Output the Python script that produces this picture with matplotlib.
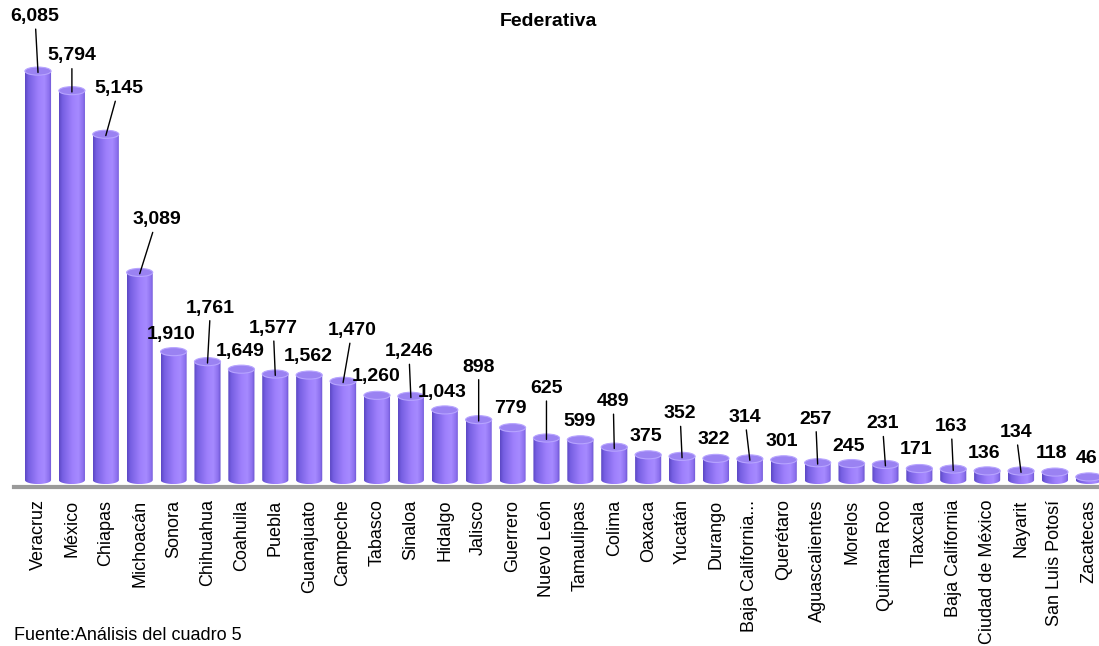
import numpy as np
import matplotlib
matplotlib.use("Agg")
import matplotlib.pyplot as plt
from matplotlib.path import Path
from matplotlib.patches import PathPatch, Ellipse

plt.rcParams['font.family'] = ['Liberation Sans', 'DejaVu Sans']

# data
estados = ["Veracruz", "México", "Chiapas", "Michoacán", "Sonora", "Chihuahua",
           "Coahuila", "Puebla", "Guanajuato", "Campeche", "Tabasco", "Sinaloa",
           "Hidalgo", "Jalisco", "Guerrero", "Nuevo León", "Tamaulipas", "Colima",
           "Oaxaca", "Yucatán", "Durango", "Baja California...", "Querétaro",
           "Aguascalientes", "Morelos", "Quintana Roo", "Tlaxcala",
           "Baja California", "Ciudad de México", "Nayarit", "San Luis Potosí",
           "Zacatecas"]
valores = [6085, 5794, 5145, 3089, 1910, 1761, 1649, 1577, 1562, 1470, 1260, 1246,
           1043, 898, 779, 625, 599, 489, 375, 352, 322, 314, 301, 257, 245, 231,
           171, 163, 136, 134, 118, 46]

# label offsets in pixels from bar top (dx, dy) and whether a leader line is drawn
label_off = [(-3, 56), (0, 36), (13, 47), (17, 54), (-2, 19), (3, 55), (-1, 19),
             (-2, 47), (-1, 20), (9, 52), (-1, 20), (-2, 46), (-3, 19), (0, 54),
             (-2, 21), (0, 51), (-1, 20), (-1, 47), (-2, 20), (-2, 44), (-2, 20),
             (-5, 43), (-2, 20), (-2, 45), (-3, 18), (-3, 42), (-3, 20), (-2, 44),
             (-3, 19), (-5, 40), (-3, 20), (-2, 20)]
leader = [1, 1, 1, 1, 0, 1, 0, 1, 0, 1, 0, 1, 0, 1, 0, 1, 0, 1, 0, 1, 0, 1, 0, 1,
          0, 1, 0, 1, 0, 1, 0, 0]

W, H = 1099, 646
fig = plt.figure(figsize=(W / 100, H / 100), dpi=100)
ax = fig.add_axes([14 / W, (H - 487) / H, (W - 14) / W, 487 / H])

bw = 0.77
cap_h = 120
stops = np.array([0.0, 0.12, 0.5, 0.72, 0.9, 1.0])
cols = np.array([[92, 72, 196], [118, 95, 226], [158, 128, 252],
                 [166, 138, 255], [140, 112, 238], [104, 82, 206]]) / 255
xs = np.linspace(0, 1, 64)
grad = np.stack([np.interp(xs, stops, cols[:, k]) for k in range(3)], axis=-1)[None, :, :]

t = np.linspace(np.pi, 2 * np.pi, 40)
for i, v in enumerate(valores):
    x0, x1 = i - bw / 2, i + bw / 2
    pts = [(x0, v), (x0, 0)]
    pts += list(zip(i + bw / 2 * np.cos(t), cap_h / 2 * np.sin(t)))
    pts += [(x1, 0), (x1, v), (x0, v)]
    clip = PathPatch(Path(pts), transform=ax.transData, facecolor='none', edgecolor='none')
    im = ax.imshow(grad, extent=[x0, x1, -cap_h / 2, v], aspect='auto',
                   interpolation='bilinear', zorder=2)
    im.set_clip_path(clip)
    ax.add_patch(Ellipse((i, v), bw, cap_h, facecolor='#9a82f2',
                         edgecolor='#b7a4ff', lw=0.8, zorder=3))

for i, v in enumerate(valores):
    dx, dy = label_off[i]
    ax.annotate(f"{v:,}", xy=(i, v - 20), xytext=(dx, dy), textcoords='offset pixels',
                ha='center', va='center', fontsize=14, fontweight='bold',
                annotation_clip=False, zorder=5,
                arrowprops=dict(arrowstyle='-', color='black', lw=1,
                                shrinkA=1, shrinkB=0) if leader[i] else None)

ax.set_xlim(-0.708, 31.3)
ax.set_ylim(-104, 7143)
ax.set_xticks(range(len(estados)))
ax.set_xticklabels(estados, rotation=90, fontsize=13, va='top')
ax.tick_params(axis='x', length=0, pad=9)
ax.set_yticks([])
for s in ['top', 'right', 'left']:
    ax.spines[s].set_visible(False)
ax.spines['bottom'].set_color('#9a9a9a')
ax.spines['bottom'].set_linewidth(3)

fig.text(548 / W, 1 - 21 / H, "Federativa", ha='center', va='center',
         fontsize=14, fontweight='bold')
fig.text(14 / W, 2 / H, "Fuente:Análisis del cuadro 5", ha='left', va='bottom',
         fontsize=13)

fig.savefig("out.png", dpi=100)
